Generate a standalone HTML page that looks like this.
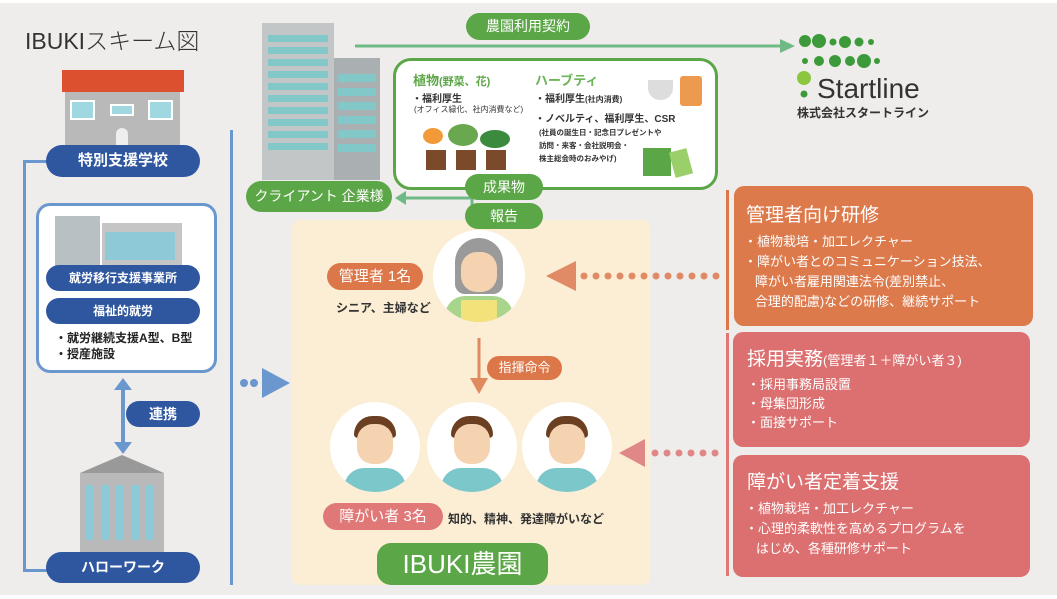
<!DOCTYPE html>
<html><head><meta charset="utf-8"><style>
*{margin:0;padding:0;box-sizing:border-box}
body{width:1057px;height:599px;background:#fff;position:relative;overflow:hidden;font-family:"Liberation Sans","Noto Sans CJK JP",sans-serif;color:#333}
.bg{position:absolute;left:0;top:3px;width:1057px;height:592px;background:#efedeb}
.a{position:absolute}
.pill{position:absolute;border-radius:16px;color:#fff;text-align:center;font-weight:bold}
.blue{background:#2f57a0}
.green{background:#5ba646}
.t{position:absolute;white-space:nowrap}
</style></head><body>
<div class="bg"></div>
<!-- beige farm (behind) -->
<div class="a" style="left:292px;top:220px;width:358px;height:365px;background:#fbeed5;border-radius:8px"></div>

<div class="t" style="left:25px;top:22px;font-size:23px;color:#333;font-weight:300">IBUKIスキーム図</div>

<!-- left lines -->
<div class="a" style="left:23px;top:160px;width:3px;height:412px;background:#6b97cf"></div>
<div class="a" style="left:23px;top:160px;width:25px;height:3px;background:#6b97cf"></div>
<div class="a" style="left:23px;top:569px;width:25px;height:3px;background:#6b97cf"></div>
<div class="a" style="left:230px;top:130px;width:3px;height:455px;background:#6b97cf"></div>

<!-- school -->
<div class="a" style="left:65px;top:88px;width:115px;height:60px;background:#b9b9b9"></div>
<div class="a" style="left:62px;top:70px;width:122px;height:22px;background:#dc4f2f"></div>
<div class="a" style="left:70px;top:100px;width:25px;height:20px;background:#9fd8e0;border:2px solid #fff"></div>
<div class="a" style="left:148px;top:100px;width:25px;height:20px;background:#9fd8e0;border:2px solid #fff"></div>
<div class="a" style="left:110px;top:104px;width:24px;height:12px;background:#9fd8e0;border:2px solid #fff"></div>
<div class="a" style="left:116px;top:128px;width:12px;height:18px;background:#eee;border-radius:6px 6px 0 0"></div>
<div class="pill blue" style="left:46px;top:145px;width:154px;height:32px;line-height:32px;font-size:15px">特別支援学校</div>

<!-- box -->
<div class="a" style="left:36px;top:203px;width:181px;height:170px;background:#fff;border:3px solid #6b97cf;border-radius:14px"></div>
<div class="a" style="left:55px;top:216px;width:45px;height:50px;background:#b8c0c4"></div>
<div class="a" style="left:102px;top:223px;width:80px;height:43px;background:#c5c5c5"></div>
<div class="a" style="left:105px;top:232px;width:70px;height:28px;background:#8ec9d8"></div>
<div class="pill blue" style="left:46px;top:265px;width:154px;height:26px;line-height:26px;font-size:12px">就労移行支援事業所</div>
<div class="pill blue" style="left:46px;top:298px;width:154px;height:26px;line-height:26px;font-size:12px">福祉的就労</div>
<div class="t" style="left:55px;top:330px;font-size:12px;font-weight:bold;line-height:16px;color:#222">・就労継続支援A型、B型<br>・授産施設</div>

<!-- double arrow -->
<svg class="a" style="left:110px;top:378px" width="26" height="76"><line x1="13" y1="8" x2="13" y2="68" stroke="#6b97cf" stroke-width="4"/><polygon points="13,0 4,12 22,12" fill="#6b97cf"/><polygon points="13,76 4,64 22,64" fill="#6b97cf"/></svg>
<div class="pill blue" style="left:126px;top:401px;width:74px;height:26px;line-height:26px;font-size:14px">連携</div>

<!-- hello work -->
<div class="a" style="left:80px;top:473px;width:84px;height:85px;background:#b9b9b9"></div>
<svg class="a" style="left:80px;top:455px" width="84" height="20"><polygon points="42,0 84,18 0,18" fill="#999"/></svg>
<div class="a" style="left:86px;top:485px;width:72px;height:55px;background:repeating-linear-gradient(90deg,#8ec9d8 0 8px,transparent 8px 15px)"></div>
<div class="pill blue" style="left:46px;top:552px;width:154px;height:31px;line-height:31px;font-size:14px">ハローワーク</div>

<!-- blue dots arrow -->
<svg class="a" style="left:238px;top:366px" width="56" height="34"><circle cx="6" cy="17" r="4" fill="#6b97cf"/><circle cx="16" cy="17" r="4" fill="#6b97cf"/><polygon points="24,2 52,17 24,32" fill="#6b97cf"/></svg>

<!-- client building -->
<div class="a" style="left:262px;top:23px;width:72px;height:157px;background:#c2c6c7"></div>
<div class="a" style="left:268px;top:30px;width:60px;height:120px;background:repeating-linear-gradient(0deg,#82c8c8 0 7px,transparent 7px 12px)"></div>
<div class="a" style="left:334px;top:58px;width:46px;height:122px;background:#aab0b2"></div>
<div class="a" style="left:338px;top:72px;width:38px;height:80px;background:repeating-linear-gradient(0deg,#82c8c8 0 8px,transparent 8px 14px)"></div>
<div class="pill green" style="left:246px;top:181px;width:146px;height:31px;line-height:31px;font-size:14px;font-weight:normal">クライアント 企業様</div>

<!-- contract arrow -->
<svg class="a" style="left:350px;top:36px" width="450" height="20"><line x1="5" y1="10" x2="432" y2="10" stroke="#6fba84" stroke-width="3"/><polygon points="430,3 445,10 430,17" fill="#6fba84"/></svg>
<div class="pill green" style="left:466px;top:13px;width:124px;height:27px;line-height:27px;font-size:14px;font-weight:normal">農園利用契約</div>

<!-- product box -->
<div class="a" style="left:393px;top:58px;width:325px;height:132px;background:#fff;border:3px solid #5ba646;border-radius:18px"></div>
<div class="t" style="left:413px;top:70px;font-size:13px;color:#5ba646;font-weight:bold">植物<span style="font-size:11px">(野菜、花)</span></div>
<div class="t" style="left:412px;top:90px;font-size:10px;font-weight:bold">・福利厚生</div>
<div class="t" style="left:414px;top:104px;font-size:8px">(オフィス緑化、社内消費など)</div>
<div class="a" style="left:418px;top:128px;width:100px;height:44px">
<div class="a" style="left:5px;top:0;width:20px;height:16px;background:#f29a3a;border-radius:50%"></div>
<div class="a" style="left:30px;top:-4px;width:30px;height:22px;background:#6aa84f;border-radius:50%"></div>
<div class="a" style="left:62px;top:2px;width:30px;height:18px;background:#3b8a3e;border-radius:50%"></div>
<div class="a" style="left:8px;top:22px;width:20px;height:20px;background:#7a4a2a"></div>
<div class="a" style="left:38px;top:22px;width:20px;height:20px;background:#7a4a2a"></div>
<div class="a" style="left:68px;top:22px;width:20px;height:20px;background:#7a4a2a"></div>
</div>
<div class="t" style="left:535px;top:70px;font-size:13px;color:#6cb556;font-weight:bold">ハーブティ</div>
<div class="t" style="left:535px;top:90px;font-size:10px;font-weight:bold">・福利厚生<span style="font-size:8px">(社内消費)</span></div>
<div class="t" style="left:535px;top:110px;font-size:10px;font-weight:bold">・ノベルティ、福利厚生、CSR</div>
<div class="t" style="left:539px;top:126px;font-size:7.5px;line-height:13px;font-weight:bold">(社員の誕生日・記念日プレゼントや<br>訪問・来客・会社説明会・<br>株主総会時のおみやげ)</div>
<div class="a" style="left:648px;top:80px;width:25px;height:20px;background:#ddd;border-radius:0 0 12px 12px"></div>
<div class="a" style="left:680px;top:76px;width:22px;height:30px;background:#ee9a4e;border-radius:3px"></div>
<div class="a" style="left:643px;top:148px;width:28px;height:28px;background:#5ba646"></div>
<div class="a" style="left:672px;top:150px;width:18px;height:26px;background:#9bcf6a;transform:rotate(-15deg)"></div>

<!-- green arrow to client -->
<svg class="a" style="left:392px;top:188px" width="90" height="36"><polyline points="80,36 80,10 12,10" fill="none" stroke="#6fba84" stroke-width="3"/><polygon points="3,10 14,3 14,17" fill="#6fba84"/></svg>
<div class="pill green" style="left:465px;top:174px;width:78px;height:26px;line-height:26px;font-size:14px;font-weight:normal">成果物</div>
<div class="pill green" style="left:465px;top:203px;width:78px;height:26px;line-height:26px;font-size:14px;font-weight:normal">報告</div>

<!-- startline -->
<svg class="a" style="left:797px;top:34px" width="150" height="90">
<g fill="#3d9a3a"><circle cx="8" cy="7" r="6"/><circle cx="22" cy="7" r="7"/><circle cx="36" cy="8" r="3.5"/><circle cx="48" cy="8" r="6"/><circle cx="62" cy="8" r="4.5"/><circle cx="74" cy="8" r="3"/>
<circle cx="8" cy="27" r="3"/><circle cx="22" cy="27" r="5"/><circle cx="38" cy="27" r="6"/><circle cx="53" cy="27" r="5"/><circle cx="67" cy="27" r="7"/><circle cx="80" cy="27" r="3"/>
<circle cx="7" cy="44" r="7" fill="#8cc63f"/><circle cx="7" cy="60" r="3.5"/></g>
<text x="20" y="64" font-family="Liberation Sans" font-size="28" fill="#333">Startline</text>
<text x="0" y="83" font-family="Liberation Sans,Noto Sans CJK JP" font-size="12" font-weight="bold" fill="#333">株式会社スタートライン</text>
</svg>

<!-- manager -->
<div class="a" style="left:433px;top:230px;width:92px;height:92px;background:#fff;border-radius:50%;overflow:hidden">
<div class="a" style="left:22px;top:8px;width:48px;height:56px;background:#9a9a9a;border-radius:24px 24px 10px 10px"></div>
<div class="a" style="left:28px;top:22px;width:36px;height:40px;background:#f6d3b0;border-radius:16px"></div>
<div class="a" style="left:12px;top:66px;width:68px;height:40px;background:#a9d48b;border-radius:20px 20px 0 0"></div>
<div class="a" style="left:28px;top:70px;width:36px;height:30px;background:#f3e27a"></div>
</div>
<div class="pill" style="left:327px;top:263px;width:96px;height:27px;line-height:27px;font-size:15px;background:#db7749;font-weight:normal">管理者 1名</div>
<div class="t" style="left:336px;top:299px;font-size:12px;font-weight:bold">シニア、主婦など</div>

<svg class="a" style="left:468px;top:338px" width="22" height="56"><line x1="11" y1="0" x2="11" y2="42" stroke="#e08a60" stroke-width="3"/><polygon points="2,40 20,40 11,56" fill="#e08a60"/></svg>
<div class="pill" style="left:487px;top:356px;width:75px;height:24px;line-height:24px;font-size:13px;background:#db7749;font-weight:normal">指揮命令</div>

<!-- workers -->
<div class="a" style="left:330px;top:402px;width:90px;height:90px;background:#fff;border-radius:50%;overflow:hidden"><div class="a" style="left:24px;top:14px;width:42px;height:22px;background:#6b3f22;border-radius:20px 20px 4px 4px"></div><div class="a" style="left:27px;top:22px;width:36px;height:40px;background:#f6d3b0;border-radius:16px"></div><div class="a" style="left:14px;top:66px;width:62px;height:30px;background:#7cc7c9;border-radius:20px 20px 0 0"></div></div>
<div class="a" style="left:427px;top:402px;width:90px;height:90px;background:#fff;border-radius:50%;overflow:hidden"><div class="a" style="left:24px;top:14px;width:42px;height:22px;background:#6b3f22;border-radius:20px 20px 4px 4px"></div><div class="a" style="left:27px;top:22px;width:36px;height:40px;background:#f6d3b0;border-radius:16px"></div><div class="a" style="left:14px;top:66px;width:62px;height:30px;background:#7cc7c9;border-radius:20px 20px 0 0"></div></div>
<div class="a" style="left:522px;top:402px;width:90px;height:90px;background:#fff;border-radius:50%;overflow:hidden"><div class="a" style="left:24px;top:14px;width:42px;height:22px;background:#6b3f22;border-radius:20px 20px 4px 4px"></div><div class="a" style="left:27px;top:22px;width:36px;height:40px;background:#f6d3b0;border-radius:16px"></div><div class="a" style="left:14px;top:66px;width:62px;height:30px;background:#7cc7c9;border-radius:20px 20px 0 0"></div></div>
<div class="pill" style="left:323px;top:503px;width:120px;height:27px;line-height:27px;font-size:15px;background:#e07878;font-weight:normal">障がい者 3名</div>
<div class="t" style="left:448px;top:510px;font-size:12px;font-weight:bold">知的、精神、発達障がいなど</div>
<div class="pill green" style="left:377px;top:543px;width:171px;height:42px;line-height:42px;font-size:26px;font-weight:normal;border-radius:14px">IBUKI農園</div>

<!-- dotted arrows -->
<svg class="a" style="left:540px;top:258px" width="190" height="36"><polygon points="6,18 36,3 36,33" fill="#e08a66"/><g fill="#e08a66"><circle cx="44" cy="18" r="3.5"/><circle cx="56" cy="18" r="3.5"/><circle cx="68" cy="18" r="3.5"/><circle cx="80" cy="18" r="3.5"/><circle cx="92" cy="18" r="3.5"/><circle cx="104" cy="18" r="3.5"/><circle cx="116" cy="18" r="3.5"/><circle cx="128" cy="18" r="3.5"/><circle cx="140" cy="18" r="3.5"/><circle cx="152" cy="18" r="3.5"/><circle cx="164" cy="18" r="3.5"/><circle cx="176" cy="18" r="3.5"/></g></svg>
<svg class="a" style="left:615px;top:436px" width="110" height="34"><polygon points="4,17 30,3 30,31" fill="#e08888"/><g fill="#e08888"><circle cx="40" cy="17" r="3.5"/><circle cx="52" cy="17" r="3.5"/><circle cx="64" cy="17" r="3.5"/><circle cx="76" cy="17" r="3.5"/><circle cx="88" cy="17" r="3.5"/><circle cx="100" cy="17" r="3.5"/></g></svg>

<!-- right boxes -->
<div class="a" style="left:726px;top:190px;width:3px;height:140px;background:#db7749"></div>
<div class="a" style="left:726px;top:333px;width:3px;height:243px;background:#e07878"></div>
<div class="a" style="left:734px;top:186px;width:299px;height:140px;background:#dc7a4c;border-radius:10px;color:#fff">
<div class="t" style="left:12px;top:14px;font-size:19px">管理者向け研修</div>
<div class="t" style="left:10px;top:46px;font-size:13px;line-height:20px">・植物栽培・加工レクチャー<br>・障がい者とのコミュニケーション技法、<br>&nbsp;&nbsp;&nbsp;障がい者雇用関連法令(差別禁止、<br>&nbsp;&nbsp;&nbsp;合理的配慮)などの研修、継続サポート</div>
</div>
<div class="a" style="left:733px;top:332px;width:297px;height:115px;background:#dc7070;border-radius:10px;color:#fff">
<div class="t" style="left:14px;top:12px;font-size:19px">採用実務<span style="font-size:13px">(管理者１＋障がい者３)</span></div>
<div class="t" style="left:14px;top:43px;font-size:13px;line-height:19px">・採用事務局設置<br>・母集団形成<br>・面接サポート</div>
</div>
<div class="a" style="left:733px;top:455px;width:297px;height:122px;background:#dc7070;border-radius:10px;color:#fff">
<div class="t" style="left:14px;top:12px;font-size:19px">障がい者定着支援</div>
<div class="t" style="left:12px;top:44px;font-size:13px;line-height:20px">・植物栽培・加工レクチャー<br>・心理的柔軟性を高めるプログラムを<br>&nbsp;&nbsp;&nbsp;はじめ、各種研修サポート</div>
</div>
</body></html>
